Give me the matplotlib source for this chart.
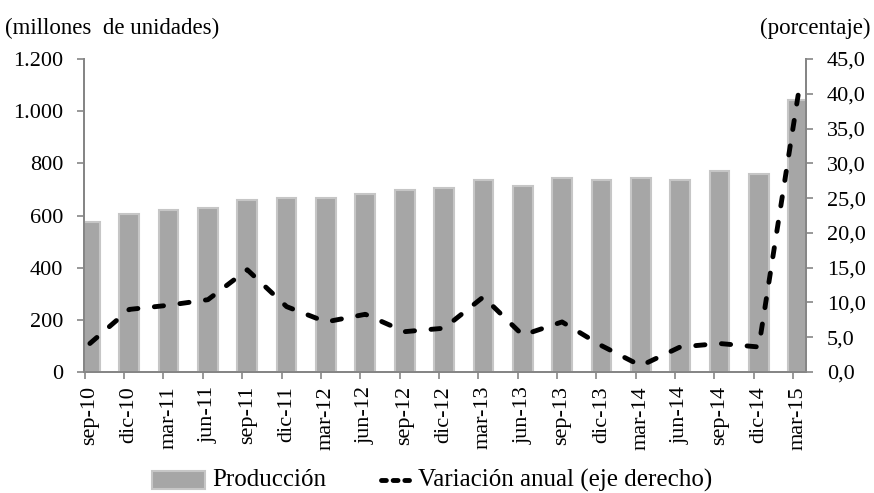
import matplotlib
matplotlib.use("Agg")
from matplotlib import pyplot as plt
from matplotlib.lines import Line2D
from matplotlib.patches import Rectangle
from matplotlib.ticker import FuncFormatter

plt.rcParams['font.family'] = ['Liberation Serif', 'DejaVu Serif']

periods = ["sep-10", "dic-10", "mar-11", "jun-11", "sep-11", "dic-11", "mar-12",
           "jun-12", "sep-12", "dic-12", "mar-13", "jun-13", "sep-13", "dic-13",
           "mar-14", "jun-14", "sep-14", "dic-14", "mar-15"]
produccion = [574, 606, 621, 629, 659, 667, 667, 682, 698, 705, 736, 713, 745,
              736, 745, 736, 771, 759, 1043]
variacion = [4.1, 9.0, 9.6, 10.4, 14.7, 9.4, 7.2, 8.3, 5.8, 6.3, 10.8, 5.3, 7.2,
             3.8, 0.9, 3.6, 4.1, 3.6, 39.8]

BAR = "#a6a6a6"
EDGE = "#c6c6c6"
AXIS = "#868686"
FS = 16
FS_LEG = 18
LW = 3.5

fig = plt.figure(figsize=(8.74, 4.93), dpi=100)
ax = fig.add_axes([0.0961, 0.2454, 0.8261, 0.6349])
ax2 = ax.twinx()

x = list(range(len(periods)))
ax.bar(x, produccion, width=0.5, color=BAR, edgecolor=EDGE, linewidth=1.5, zorder=2)
ax2.plot(x, variacion, color="black", lw=LW, dashes=(1.9, 3.4),
         dash_capstyle="round", solid_capstyle="round", zorder=3)

ax.set_xlim(-0.15, len(periods) - 1 + 0.2)
ax.set_ylim(0, 1200)
ax2.set_ylim(0, 45)
ax.set_yticks(range(0, 1201, 200))
ax2.set_yticks(range(0, 46, 5))

ax.yaxis.set_major_formatter(FuncFormatter(lambda v, p: f"{int(v):,}".replace(",", ".")))
ax2.yaxis.set_major_formatter(FuncFormatter(lambda v, p: f"{v:.1f}".replace(".", ",")))

# separator ticks slightly left of each category, labels at the centres
ax.set_xticks([i - 0.13 for i in x])
ax.set_xticklabels([])
ax.set_xticks(x, minor=True)
ax.set_xticklabels(periods, minor=True, rotation=90, fontsize=FS)
ax.tick_params(axis="x", which="major", length=5, color=AXIS, width=1.2)
ax.tick_params(axis="x", which="minor", length=0, pad=10)

ax.tick_params(axis="y", length=5, color=AXIS, width=1.2, labelsize=FS, pad=10)
ax2.tick_params(axis="y", length=5, color=AXIS, width=1.2, labelsize=FS, pad=10)

for a in (ax, ax2):
    a.spines["top"].set_visible(False)
    for side in ("left", "right", "bottom"):
        a.spines[side].set_color(AXIS)
        a.spines[side].set_linewidth(1.4)

fig.text(0.006, 0.943, "(millones  de unidades)", fontsize=FS + 0.5, ha="left", va="center")
fig.text(0.996, 0.943, "(porcentaje)", fontsize=FS + 0.5, ha="right", va="center")

# legend drawn by hand so the two keys can have different lengths
W, H = fig.get_size_inches() * fig.dpi
leg_y = 1 - 480 / H
fig.add_artist(Rectangle((152 / W, leg_y - 9 / H), 53 / W, 18 / H,
                         transform=fig.transFigure, facecolor=BAR,
                         edgecolor=EDGE, linewidth=1.5))
fig.text(212 / W, leg_y, "Producción", fontsize=FS_LEG, ha="left", va="center")
fig.add_artist(Line2D([381 / W, 409 / W], [leg_y, leg_y], transform=fig.transFigure,
                      color="black", lw=LW, dashes=(1.0, 1.4), dash_capstyle="round"))
fig.text(418 / W, leg_y, "Variación anual (eje derecho)", fontsize=FS_LEG,
         ha="left", va="center")

fig.savefig("out.png", dpi=100)
